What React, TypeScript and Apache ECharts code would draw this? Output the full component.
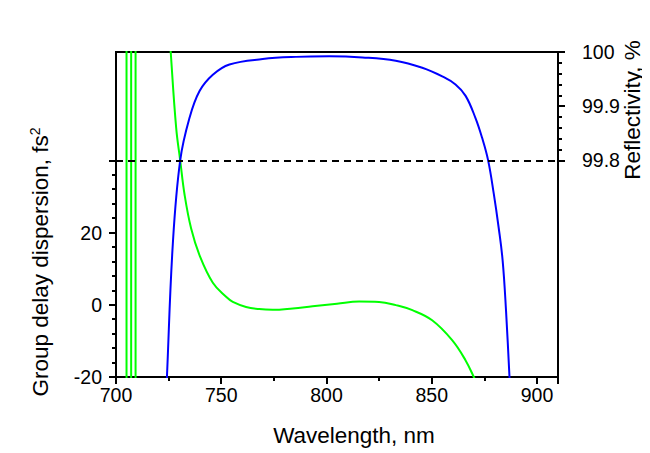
import React, { useEffect, useRef } from "react";
import * as echarts from "echarts";

// Wavelength (nm) and group delay dispersion (fs^2)
const gddWavelengths = [724.5, 726.0, 728.6, 730.5, 732.6, 735.7, 739.7, 746.0, 752.3, 755.5, 761.8, 768.0, 774.4, 784.0, 793.4, 805.0, 815.5, 825.0, 833.0, 840.8, 850.2, 859.7, 866.1, 870.0, 871.0];
const gddValues = [84, 70, 48.9, 40, 30.4, 21.1, 13.7, 6.1, 2.2, 0.8, -0.6, -1.2, -1.4, -1.0, -0.4, 0.3, 0.9, 0.8, -0.1, -1.5, -4.3, -9.8, -15.4, -20, -21.5];
// Oscillating GDD at the band edge (vertical traces)
const gddEdgeWavelengths = [705.0, 707.2, 709.3];

// Wavelength (nm) and reflectivity (%)
const reflWavelengths = [723.9, 724.2, 727.0, 730.5, 734.9, 739.7, 746.0, 753.9, 769.7, 785.5, 801.3, 817.1, 832.9, 845.5, 855.0, 861.3, 866.1, 870.8, 873.9, 876.8, 879.5, 881.8, 883.7, 885.3, 886.9, 887.2];
const reflValues = [99.37, 99.40, 99.646, 99.80, 99.878, 99.928, 99.958, 99.977, 99.987, 99.991, 99.992, 99.990, 99.984, 99.971, 99.955, 99.940, 99.919, 99.878, 99.842, 99.80, 99.738, 99.676, 99.615, 99.523, 99.404, 99.38];

const xTicks = { min: 700, max: 910, interval: 50 };
const gddRange = { min: -20, max: 70, tickMax: 40, interval: 20 };
const reflRange = { min: 99.4, max: 100, tickMin: 99.8, interval: 0.1 };
const reflThreshold = 99.8;

const FONT = "Liberation Sans, Arial, sans-serif";

export default function App() {
  const ref = useRef<HTMLDivElement>(null);
  useEffect(() => {
    if (!ref.current) return;
    const chart = echarts.init(ref.current, null, { renderer: "svg" });
    const L = 108, T = 44, W = 442, H = 325;
    const y40 = T + (H * (gddRange.max - gddRange.tickMax)) / (gddRange.max - gddRange.min);
    const y998 = T + (H * (reflRange.max - reflRange.tickMin)) / (reflRange.max - reflRange.min);
    const lbl = { color: "#000", fontFamily: FONT, fontSize: 19.5 };
    const hiddenX = (gi: number) => ({
      type: "value", gridIndex: gi, min: xTicks.min, max: xTicks.max, show: false,
      axisLine: { onZero: false },
    });
    const option: any = {
      animation: false,
      backgroundColor: "#fff",
      grid: [
        { left: L, top: T, width: W, height: H, show: true, borderColor: "#000", borderWidth: 2, backgroundColor: "transparent" },
        { left: L, top: y40, width: W, height: T + H - y40 },
        { left: L, top: T, width: W, height: y998 - T },
      ],
      xAxis: [
        {
          type: "value", gridIndex: 0, min: xTicks.min, max: xTicks.max, interval: xTicks.interval,
          axisLine: { show: true, onZero: false, lineStyle: { color: "#000", width: 2 } },
          axisTick: { show: true, inside: false, length: 7, lineStyle: { color: "#000", width: 2 } },
          minorTick: { show: true, splitNumber: 2, length: 4, lineStyle: { color: "#000", width: 2 } },
          splitLine: { show: false },
          axisLabel: { ...lbl, margin: 8, formatter: (v: number) => (v > 900 ? "" : String(v)) },
        },
        hiddenX(1),
        hiddenX(2),
      ],
      yAxis: [
        { type: "value", gridIndex: 0, min: gddRange.min, max: gddRange.max, show: false },
        { type: "value", gridIndex: 0, min: reflRange.min, max: reflRange.max, position: "right", show: false },
        {
          type: "value", gridIndex: 1, min: gddRange.min, max: gddRange.tickMax, interval: gddRange.interval,
          axisLine: { show: true, onZero: false, lineStyle: { color: "#000", width: 2 } },
          axisTick: { show: true, inside: false, length: 7, lineStyle: { color: "#000", width: 2 } },
          minorTick: { show: true, splitNumber: 5, length: 4, lineStyle: { color: "#000", width: 2 } },
          splitLine: { show: false },
          axisLabel: { ...lbl, margin: 14, formatter: (v: number) => (v >= gddRange.tickMax ? "" : String(v)) },
        },
        {
          type: "value", gridIndex: 2, min: reflRange.tickMin, max: reflRange.max, interval: reflRange.interval,
          position: "right",
          axisLine: { show: true, onZero: false, lineStyle: { color: "#000", width: 2 } },
          axisTick: { show: true, inside: false, length: 7, lineStyle: { color: "#000", width: 2 } },
          minorTick: { show: true, splitNumber: 5, length: 4, lineStyle: { color: "#000", width: 2 } },
          splitLine: { show: false },
          axisLabel: { ...lbl, margin: 24, formatter: (v: number) => String(Math.round(v * 10) / 10) },
        },
      ],
      series: [
        ...gddEdgeWavelengths.map((w) => ({
          type: "line", xAxisIndex: 0, yAxisIndex: 0, symbol: "none",
          data: [[w, gddRange.min - 10], [w, gddRange.max + 10]],
          lineStyle: { color: "#00ff00", width: 2 }, clip: true,
        })),
        {
          type: "line", xAxisIndex: 0, yAxisIndex: 0, symbol: "none", smooth: 0.4,
          data: gddWavelengths.map((w, i) => [w, gddValues[i]]),
          lineStyle: { color: "#00ff00", width: 2 }, clip: true,
        },
        {
          type: "line", xAxisIndex: 0, yAxisIndex: 1, symbol: "none", smooth: 0.4,
          data: reflWavelengths.map((w, i) => [w, reflValues[i]]),
          lineStyle: { color: "#0000ff", width: 2 }, clip: true,
          markLine: {
            silent: true, symbol: "none", label: { show: false },
            lineStyle: { color: "#000", type: [7, 5], width: 2 },
            data: [{ yAxis: reflThreshold }],
          },
        },
      ],
      graphic: [
        {
          type: "text", x: 346, y: 427,
          style: { text: "Wavelength, nm", font: `22.5px ${FONT}`, fill: "#000", textAlign: "center", textVerticalAlign: "middle" },
        },
        {
          type: "text", x: 32, y: 254, rotation: Math.PI / 2,
          style: {
            text: "{a|Group delay dispersion, fs}{s|2}",
            textAlign: "center", textVerticalAlign: "middle", fill: "#000",
            rich: {
              a: { fontFamily: FONT, fontSize: 22.5, fill: "#000", verticalAlign: "bottom" },
              s: { fontFamily: FONT, fontSize: 14, fill: "#000", verticalAlign: "top", padding: [0, 0, 10, 0] },
            },
          },
        },
        {
          type: "text", x: 624, y: 102, rotation: Math.PI / 2,
          style: { text: "Reflectivity, %", font: `22.5px ${FONT}`, fill: "#000", textAlign: "center", textVerticalAlign: "middle" },
        },
      ],
    };
    chart.setOption(option);
    return () => chart.dispose();
  }, []);
  return <div ref={ref} style={{ width: 650, height: 453 }} />;
}
